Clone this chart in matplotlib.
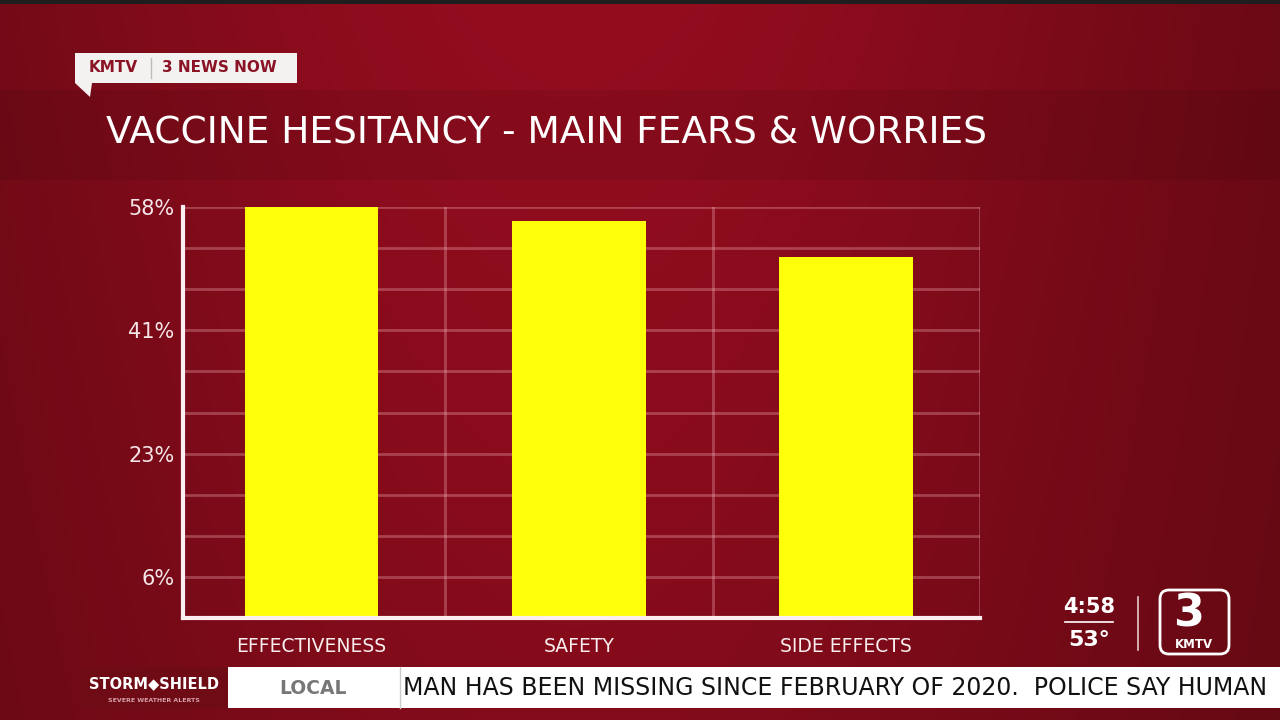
import numpy as np
import matplotlib.pyplot as plt
from matplotlib.patches import Rectangle, FancyBboxPatch, Polygon

# Data
categories = ['EFFECTIVENESS', 'SAFETY', 'SIDE EFFECTS']
values = [58, 56, 51]
tick_values = [5.8, 23.2, 40.6, 58]
tick_labels = ['6%', '23%', '41%', '58%']

title = 'VACCINE HESITANCY - MAIN FEARS & WORRIES'
ticker = 'MAN HAS BEEN MISSING SINCE FEBRUARY OF 2020.  POLICE SAY HUMAN'

plt.rcParams['font.family'] = ['DejaVu Sans']

fig = plt.figure(figsize=(12.8, 7.2), dpi=100)

# background gradient
bg = fig.add_axes([0, 0, 1, 1])
W, H = 1280, 720
xx = np.linspace(0, 1, W)
yy = np.linspace(0, 1, H)
X, Y = np.meshgrid(xx, yy)
bright = np.array([0.58, 0.05, 0.12])
dark = np.array([0.33, 0.03, 0.06])
# brightest around x~0.45, darker towards the sides
w = np.exp(-((X - 0.45) / 0.55) ** 2)
w = w * (1 - 0.25 * Y)
img = dark[None, None, :] * (1 - w[..., None]) + bright[None, None, :] * w[..., None]
# slightly darker title band
band = (Y > 90 / 720) & (Y < 180 / 720)
img[band] *= 0.92
img[:4] = 0.12
bg.imshow(img, extent=[0, W, H, 0], aspect='auto')
bg.set_xlim(0, W)
bg.set_ylim(H, 0)
bg.axis('off')

# KMTV tag
bg.add_patch(Polygon([[75, 53], [297, 53], [297, 83], [92, 83], [90, 97], [75, 83]],
                     closed=True, facecolor='#f4f1f1', edgecolor='none'))
bg.text(89, 68, 'KMTV', color='#8a1425', fontsize=11, fontweight='bold', va='center')
bg.plot([151, 151], [58, 78], color='#bbbbbb', lw=1)
bg.text(162, 68, '3 NEWS NOW', color='#8a1425', fontsize=11, fontweight='bold', va='center')

# title
bg.text(106, 133, title, color='white', fontsize=27, va='center', ha='left')

# bottom ticker
bg.add_patch(Rectangle((80, 667), 148, 42, facecolor='#6e0b15', edgecolor='none'))
bg.text(154, 684, 'STORM\u25c6SHIELD', color='white', fontsize=10.5, fontweight='bold',
        ha='center', va='center')
bg.text(154, 700, 'SEVERE WEATHER ALERTS', color='#d8a0a8', fontsize=4.5,
        fontweight='bold', ha='center', va='center')
bg.add_patch(Rectangle((228, 667), 1052, 41, facecolor='white', edgecolor='none'))
bg.plot([400, 400], [667, 708], color='#cccccc', lw=1)
bg.text(313, 688, 'LOCAL', color='#777777', fontsize=13.5, fontweight='bold',
        ha='center', va='center')
bg.text(403, 688, ticker, color='#111111', fontsize=17, ha='left', va='center')

# clock / logo
bg.text(1089, 607, '4:58', color='white', fontsize=15, fontweight='bold', ha='center', va='center')
bg.plot([1065, 1113], [622, 622], color='white', lw=1.2)
bg.text(1089, 640, '53\u00b0', color='white', fontsize=16, fontweight='bold', ha='center', va='center')
bg.plot([1138, 1138], [597, 650], color='#e8c8cc', lw=1.2)
bg.add_patch(FancyBboxPatch((1160, 590), 69, 64, boxstyle='round,pad=0,rounding_size=9',
                            facecolor='none', edgecolor='white', lw=2))
bg.text(1189, 614, '3', color='white', fontsize=32, fontweight='bold', ha='center', va='center')
bg.text(1194, 645, 'KMTV', color='white', fontsize=8.5, fontweight='bold', ha='center', va='center')

# chart
ax = fig.add_axes([183 / 1280, 102 / 720, 797 / 1280, 411 / 720])
ax.patch.set_alpha(0)
x = np.arange(len(categories))
grid_color = (1, 0.75, 0.78, 0.3)
for gy in np.linspace(0, 58, 11)[1:]:
    ax.axhline(gy, color=grid_color, lw=2, zorder=1)
for gx in [0.5, 1.5, 2.5]:
    ax.axvline(gx, color=grid_color, lw=2, zorder=1)
ax.bar(x, values, width=0.5, color='#ffff0a', zorder=2)
ax.set_xlim(-0.48, 2.5)
ax.set_ylim(0, 58)
ax.set_yticks(tick_values)
ax.set_yticklabels(tick_labels)
ax.set_xticks(x)
ax.set_xticklabels(categories)
ax.tick_params(axis='y', length=0, pad=6, labelsize=15, labelcolor='#f4e6e8')
ax.tick_params(axis='x', length=0, pad=14, labelsize=13.5, labelcolor='#f8eeee')
for s in ['top', 'right']:
    ax.spines[s].set_visible(False)
for s in ['left', 'bottom']:
    ax.spines[s].set_color('#fbeef0')
    ax.spines[s].set_linewidth(3)
    ax.spines[s].set_zorder(3)

fig.savefig('out.png', dpi=100)
